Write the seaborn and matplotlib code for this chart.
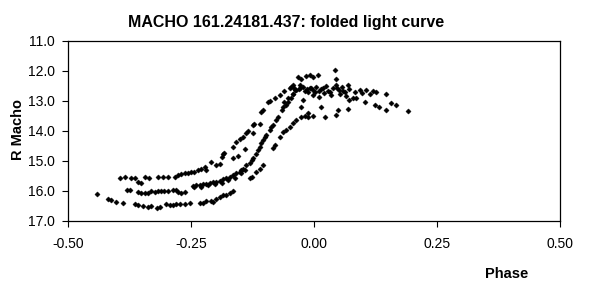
import matplotlib
matplotlib.use("Agg")
import matplotlib.pyplot as plt
import seaborn as sns
import pandas as pd

# Folded light curve points (phase, R magnitude)
phase_low = [-0.442, -0.419, -0.412, -0.402, -0.388, -0.364, -0.358, -0.348, -0.337, -0.331,
             -0.320, -0.314, -0.300, -0.293, -0.287, -0.280, -0.273, -0.263, -0.253, -0.232,
             -0.226, -0.219, -0.209, -0.205, -0.199, -0.192, -0.185, -0.178, -0.171, -0.165,
             -0.131, -0.127, -0.117, -0.110, -0.104, -0.083, -0.080, -0.070, -0.063, -0.056,
             -0.049, -0.043, -0.036, -0.026, -0.019, -0.012, -0.002, 0.022, 0.045, 0.049, 0.070]
mag_low = [16.11, 16.26, 16.31, 16.37, 16.42, 16.44, 16.49, 16.50, 16.53, 16.51,
           16.56, 16.53, 16.44, 16.48, 16.46, 16.44, 16.44, 16.43, 16.42, 16.42,
           16.40, 16.34, 16.33, 16.37, 16.26, 16.20, 16.14, 16.14, 16.07, 16.01,
           15.59, 15.53, 15.37, 15.26, 15.14, 14.59, 14.48, 14.22, 14.03, 13.96,
           13.87, 13.73, 13.64, 13.53, 13.51, 13.53, 13.51, 13.53, 13.48, 13.31, 13.29]

phase_up = [-0.395, -0.385, -0.371, -0.364, -0.358, -0.351, -0.344, -0.335, -0.317, -0.307,
            -0.297, -0.283, -0.276, -0.270, -0.263, -0.256, -0.249, -0.243, -0.236, -0.229,
            -0.222, -0.219, -0.209, -0.199, -0.192, -0.188, -0.185, -0.182, -0.165, -0.158,
            -0.151, -0.144, -0.138, -0.134, -0.124, -0.121, -0.107, -0.104, -0.093, -0.090,
            -0.080, -0.070, -0.060, -0.049, -0.043, -0.165, -0.154, -0.141, -0.124, -0.110]
mag_up = [15.57, 15.54, 15.57, 15.56, 15.70, 15.73, 15.54, 15.57, 15.54, 15.54,
          15.54, 15.54, 15.49, 15.44, 15.42, 15.40, 15.38, 15.36, 15.32, 15.29,
          15.22, 15.31, 15.03, 15.14, 15.12, 14.87, 14.76, 14.73, 14.53, 14.37,
          14.29, 14.20, 14.09, 14.00, 13.81, 13.76, 13.37, 13.31, 13.03, 13.00,
          12.92, 12.81, 12.68, 12.59, 12.48, 14.92, 14.84, 14.62, 14.09, 13.76]

phase_mid = [-0.381, -0.375, -0.358, -0.351, -0.344, -0.337, -0.331, -0.324, -0.317, -0.310,
             -0.304, -0.297, -0.287, -0.280, -0.276, -0.270, -0.263, -0.246, -0.239, -0.232,
             -0.226, -0.219, -0.212, -0.205, -0.199, -0.192, -0.185, -0.178, -0.171, -0.165,
             -0.158, -0.151, -0.148, -0.144, -0.138, -0.131, -0.127, -0.124, -0.117, -0.114,
             -0.110, -0.107, -0.104, -0.100, -0.097, -0.090, -0.087, -0.083, -0.077, -0.073,
             -0.066, -0.063, -0.056, -0.053, -0.046, -0.043, -0.036, -0.029,
             -0.243, -0.229, -0.216, -0.202, -0.188, -0.175, -0.161, -0.148, -0.141]
mag_mid = [15.96, 15.96, 16.03, 16.07, 16.06, 16.07, 16.01, 16.03, 16.01, 16.02,
           16.00, 16.02, 15.98, 15.96, 16.04, 16.06, 16.03, 15.84, 15.82, 15.80,
           15.78, 15.76, 15.73, 15.71, 15.70, 15.67, 15.62, 15.57, 15.53, 15.48,
           15.42, 15.37, 15.31, 15.26, 15.14, 15.07, 14.98, 14.92, 14.76, 14.64,
           14.53, 14.42, 14.31, 14.20, 14.14, 13.98, 13.87, 13.81, 13.64, 13.53,
           13.31, 13.22, 13.14, 13.03, 12.92, 12.76, 12.64, 12.56,
           15.89, 15.87, 15.82, 15.78, 15.73, 15.64, 15.56, 15.42, 15.31]

phase_peak = [-0.033, -0.026, -0.016, -0.009, -0.002, 0.008, -0.046, -0.039, -0.029, -0.022,
              -0.015, -0.009, -0.002, 0.005, 0.011, 0.018, 0.025, 0.032, 0.039, 0.045,
              0.051, 0.056, 0.062, 0.069, 0.072, -0.002, 0.011, -0.022, 0.035, 0.052,
              0.066, 0.042, 0.044, -0.043, -0.053, -0.060, -0.026, -0.012, 0.014, -0.040,
              -0.030, -0.018, -0.006, 0.002, 0.015, 0.028, 0.047, 0.058, 0.020, -0.012]
mag_peak = [12.20, 12.29, 12.18, 12.14, 12.20, 12.14, 12.53, 12.64, 12.48, 12.53,
            12.62, 12.56, 12.64, 12.53, 12.67, 12.59, 12.51, 12.70, 12.59, 12.48,
            12.64, 12.53, 12.70, 12.48, 12.62, 12.81, 12.87, 12.98, 12.81, 12.76,
            12.84, 11.98, 12.26, 12.76, 12.92, 13.03, 13.20, 13.40, 13.22, 12.58,
            12.60, 12.68, 12.58, 12.70, 12.62, 12.66, 12.56, 12.66, 12.74, 12.72]

phase_tail = [0.093, 0.106, 0.120, 0.127, 0.147, 0.079, 0.086, 0.072, 0.103, 0.123,
              0.133, 0.147, 0.157, 0.167, 0.191, 0.083, 0.098, 0.113]
mag_tail = [12.64, 12.64, 12.67, 12.70, 12.76, 12.92, 12.92, 12.98, 13.03, 13.14,
            13.22, 13.31, 13.09, 13.14, 13.33, 12.70, 12.74, 12.78]

x_ticks = [-0.50, -0.25, 0.00, 0.25, 0.50]
y_ticks = [11.0, 12.0, 13.0, 14.0, 15.0, 16.0, 17.0]

df = pd.DataFrame({
    "Phase": phase_low + phase_up + phase_mid + phase_peak + phase_tail,
    "R Macho": mag_low + mag_up + mag_mid + mag_peak + mag_tail,
})

sns.set_style("white")
plt.rcParams["font.family"] = ["Liberation Sans", "DejaVu Sans"]
plt.rcParams["text.color"] = "black"

fig = plt.figure(figsize=(5.89, 2.93), dpi=100)
ax = fig.add_axes([68 / 589, 1 - 220.7 / 293, (560 - 68) / 589, (220.7 - 40.7) / 293])

sns.scatterplot(data=df, x="Phase", y="R Macho", ax=ax, marker="D", s=7,
                color="black", edgecolor="black", linewidth=0.3, legend=False)

ax.set_xlim(-0.5, 0.5)
ax.set_ylim(17.0, 11.0)
ax.set_xticks(x_ticks)
ax.set_xticklabels([f"{v:.2f}" for v in x_ticks])
ax.set_yticks(y_ticks)
ax.set_yticklabels([f"{v:.1f}" for v in y_ticks])
ax.tick_params(axis="both", direction="out", length=4.5, width=0.8, color="black",
               labelsize=10, labelcolor="black", left=True, bottom=True)
ax.tick_params(axis="x", pad=7)
ax.tick_params(axis="y", pad=5)
for sp in ax.spines.values():
    sp.set_visible(True)
    sp.set_color("black")
    sp.set_linewidth(0.9)
ax.set_xlabel("")
ax.set_ylabel("")

fig.text(286 / 589, 1 - 22 / 293, "MACHO 161.24181.437: folded light curve",
         ha="center", va="center", fontsize=11.5, fontweight="bold")
fig.text(507 / 589, 1 - 274 / 293, "Phase", ha="center", va="center",
         fontsize=10.5, fontweight="bold")
fig.text(18 / 589, 1 - 129 / 293, "R Macho", ha="center", va="center",
         rotation=90, fontsize=10.5, fontweight="bold")

fig.savefig("out.png", dpi=100, facecolor="white")
